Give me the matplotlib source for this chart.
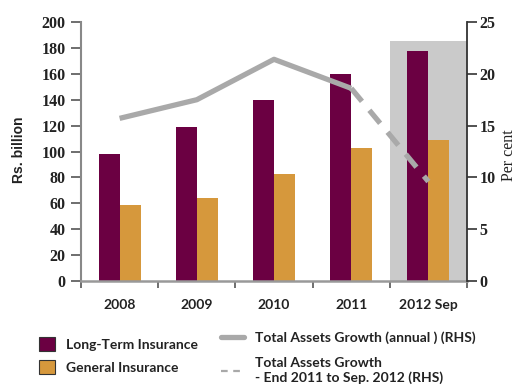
import matplotlib
matplotlib.use("Agg")
import matplotlib.pyplot as plt
import numpy as np
from matplotlib.patches import Patch, Rectangle
from matplotlib.lines import Line2D

# Insurance sector assets
years = ["2008", "2009", "2010", "2011", "2012 Sep"]
long_term = [98, 119, 140, 160, 178]          # Rs. billion
general = [58.5, 64, 83, 103, 109]            # Rs. billion
growth_annual = [15.7, 17.5, 21.4, 18.6]      # per cent, 2008-2011
growth_partial = [18.6, 9.6]                  # per cent, end 2011 -> Sep 2012
shade_top = 185                               # Rs. billion, highlight for latest period

LT_COLOR = "#6b0042"
GI_COLOR = "#d6983c"
LINE_COLOR = "#a9a9a9"
SHADE_COLOR = "#cacaca"

fig = plt.figure(figsize=(5.16, 3.89), dpi=100)
ax = fig.add_axes([0.157, 0.2776, 0.748, 0.6658])
ax2 = ax.twinx()

x = np.arange(len(years))
w = 0.272

# shaded band behind the latest period
ax.add_patch(Rectangle((x[-1] - 0.5, 0), 1.0, shade_top, facecolor=SHADE_COLOR,
                       edgecolor="none", zorder=0))
ax.bar(x - w / 2, long_term, width=w, color=LT_COLOR, zorder=2)
ax.bar(x + w / 2, general, width=w, color=GI_COLOR, zorder=2)

ax2.plot(x[:len(growth_annual)], growth_annual, color=LINE_COLOR, lw=3.8,
         solid_capstyle="butt", solid_joinstyle="round", zorder=3)
ax2.plot(x[len(growth_annual) - 1:], growth_partial, color=LINE_COLOR, lw=3.8,
         dashes=(3.2, 2.2), dash_capstyle="butt", zorder=3)

ax.set_xlim(-0.5, len(years) - 0.5)
ax.set_ylim(0, 200)
ax2.set_ylim(0, 25)
ax.set_yticks(np.arange(0, 201, 20))
ax2.set_yticks(np.arange(0, 26, 5))

ax.set_xticks(x)
ax.set_xticklabels(years, fontfamily="Lato", fontweight="bold", fontsize=10, color="#222222")
ax.set_xticks(np.arange(-0.5, len(years), 1.0), minor=True)
ax.tick_params(axis="x", which="major", length=0, pad=13)
ax.tick_params(axis="x", which="minor", length=5, width=1.2, color="#555555", direction="out")

serif_ticks = dict(fontfamily="Liberation Serif", fontweight="bold", fontsize=11.5)
for lab in ax.get_yticklabels():
    lab.set(**serif_ticks, color="#222222")
for lab in ax2.get_yticklabels():
    lab.set(**serif_ticks, color="#222222")
ax.tick_params(axis="y", length=7, width=1.2, color="#555555", pad=4)
ax2.tick_params(axis="y", length=7, width=1.2, color="#333333", pad=2)

for a in (ax, ax2):
    a.spines["top"].set_visible(False)
ax.spines["right"].set_visible(False)
ax2.spines["left"].set_visible(False)
ax2.spines["bottom"].set_visible(False)
ax.spines["left"].set_color("#888888")
ax.spines["left"].set_linewidth(1.5)
ax.spines["bottom"].set_color("#999999")
ax.spines["bottom"].set_linewidth(1.8)
ax2.spines["right"].set_color("#333333")
ax2.spines["right"].set_linewidth(1.3)
ax.set_zorder(ax2.get_zorder() - 1)
ax2.patch.set_visible(False)

fig.text(0.037, 0.615, "Rs. billion", rotation=90, ha="center", va="center",
         fontfamily="Liberation Sans", fontweight="bold", fontsize=10, color="#222222")
fig.text(0.986, 0.60, "Per cent", rotation=90, ha="center", va="center",
         fontfamily="Liberation Serif", fontsize=11.5, color="#222222")

legend_font = dict(family="Lato", weight="bold", size=10)
bar_handles = [Patch(facecolor=LT_COLOR, edgecolor="#333333", lw=0.8),
               Patch(facecolor=GI_COLOR, edgecolor="#333333", lw=0.8)]
leg1 = fig.legend(bar_handles, ["Long-Term Insurance", "General Insurance"],
                  loc="upper left", bbox_to_anchor=(0.052, 0.165), frameon=False,
                  prop=legend_font, handlelength=1.1, handleheight=1.1,
                  handletextpad=0.85, labelspacing=0.7, labelcolor="#222222")
line_handles = [Line2D([], [], color=LINE_COLOR, lw=3.8, solid_capstyle="round"),
                Line2D([], [], color=LINE_COLOR, lw=1.6, dashes=(3, 2.5))]
leg2 = fig.legend(line_handles, ["Total Assets Growth (annual ) (RHS)",
                                 "Total Assets Growth\n- End 2011 to Sep. 2012 (RHS)"],
                  loc="upper left", bbox_to_anchor=(0.405, 0.180), frameon=False,
                  prop=legend_font, handlelength=1.65, handletextpad=0.75,
                  labelspacing=0.95, labelcolor="#222222")

fig.savefig("out.png", dpi=100)
